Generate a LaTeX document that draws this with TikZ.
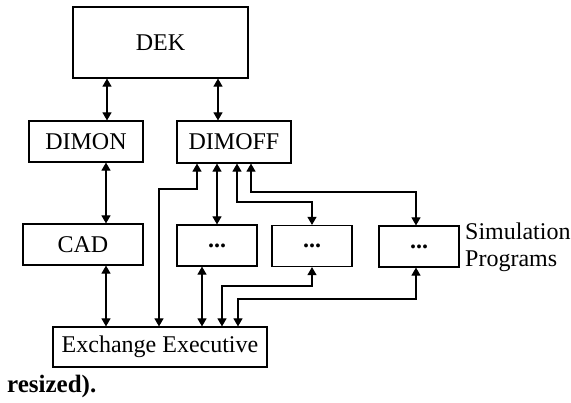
\documentclass[tikz,border=0pt]{standalone}
\usepackage{fontspec}
\setmainfont{Liberation Serif}
\usetikzlibrary{arrows.meta}

\tikzset{
  box/.style={draw,line width=1.2pt,inner sep=0pt,font=\fontsize{24}{27}\selectfont},
  link/.style={line width=1.1pt,<->},
}

\begin{document}
\begin{tikzpicture}[x=1pt,y=-1pt]
\useasboundingbox (0,0) rectangle (571,403);
\begin{scope}[>={Triangle[length=8pt,width=9pt]}]

    \node[box,minimum width=175pt,minimum height=71pt] (dek) at (160.5,42.5) {DEK};
    \node[box,minimum width=114pt,minimum height=41pt] (dimon) at (86,141.5) {DIMON};
    \node[box,minimum width=114pt,minimum height=42pt] (dimoff) at (234,142) {DIMOFF};
    \node[box,minimum width=120pt,minimum height=41pt] (cad) at (83,244.5) {CAD};
    \node[box,minimum width=80pt,minimum height=41pt] (simA) at (217,245.5) {\textbf{...}};
    \node[box,minimum width=80pt,minimum height=41pt] (simB) at (312,246) {\textbf{...}};
    \node[box,minimum width=80pt,minimum height=41pt] (simC) at (419,246.5) {\textbf{...}};
    \node[box,minimum width=214pt,minimum height=40pt] (exch) at (160,347) {Exchange Executive};
    \node[font=\fontsize{24}{27}\selectfont,align=left,anchor=west,inner sep=0pt] (simlabel) at (465,247) {Simulation\\Programs};
    \node[font=\fontsize{25}{28}\selectfont\bfseries,anchor=base west,inner sep=0pt] (caption) at (7,393) {resized).};

    \coordinate (xa) at (107,0);
    \coordinate (xb) at (218,0);
    \coordinate (xc) at (106,0);
    \coordinate (xe) at (217,0);
    \coordinate (xi) at (202,0);
    \draw[link] (dek.south -| xa) -- (dimon.north -| xa);
    \draw[link] (dek.south -| xb) -- (dimoff.north -| xb);
    \draw[link] (dimon.south -| xc) -- (cad.north -| xc);
    \draw[link] (cad.south -| xc) -- (exch.north -| xc);
    \draw[link] (dimoff.south -| xe) -- (simA.north -| xe);
    \draw[link] (simA.south -| xi) -- (exch.north -| xi);

    \coordinate (d1) at (197,189);
    \coordinate (d2) at (159,189);
    \draw[link] (dimoff.south -| d1) -- (d1) -- (d2) -- (exch.north -| d2);
    \coordinate (f1) at (237,202);
    \coordinate (f2) at (312,202);
    \draw[link] (dimoff.south -| f1) -- (f1) -- (f2) -- (simB.north -| f2);
    \coordinate (g1) at (251,192);
    \coordinate (g2) at (416,192);
    \draw[link] (dimoff.south -| g1) -- (g1) -- (g2) -- (simC.north -| g2);
    \coordinate (j1) at (312,286);
    \coordinate (j2) at (222,286);
    \draw[link] (simB.south -| j1) -- (j1) -- (j2) -- (exch.north -| j2);
    \coordinate (k1) at (416,299);
    \coordinate (k2) at (238,299);
    \draw[link] (simC.south -| k1) -- (k1) -- (k2) -- (exch.north -| k2);
\end{scope}
\end{tikzpicture}
\end{document}
